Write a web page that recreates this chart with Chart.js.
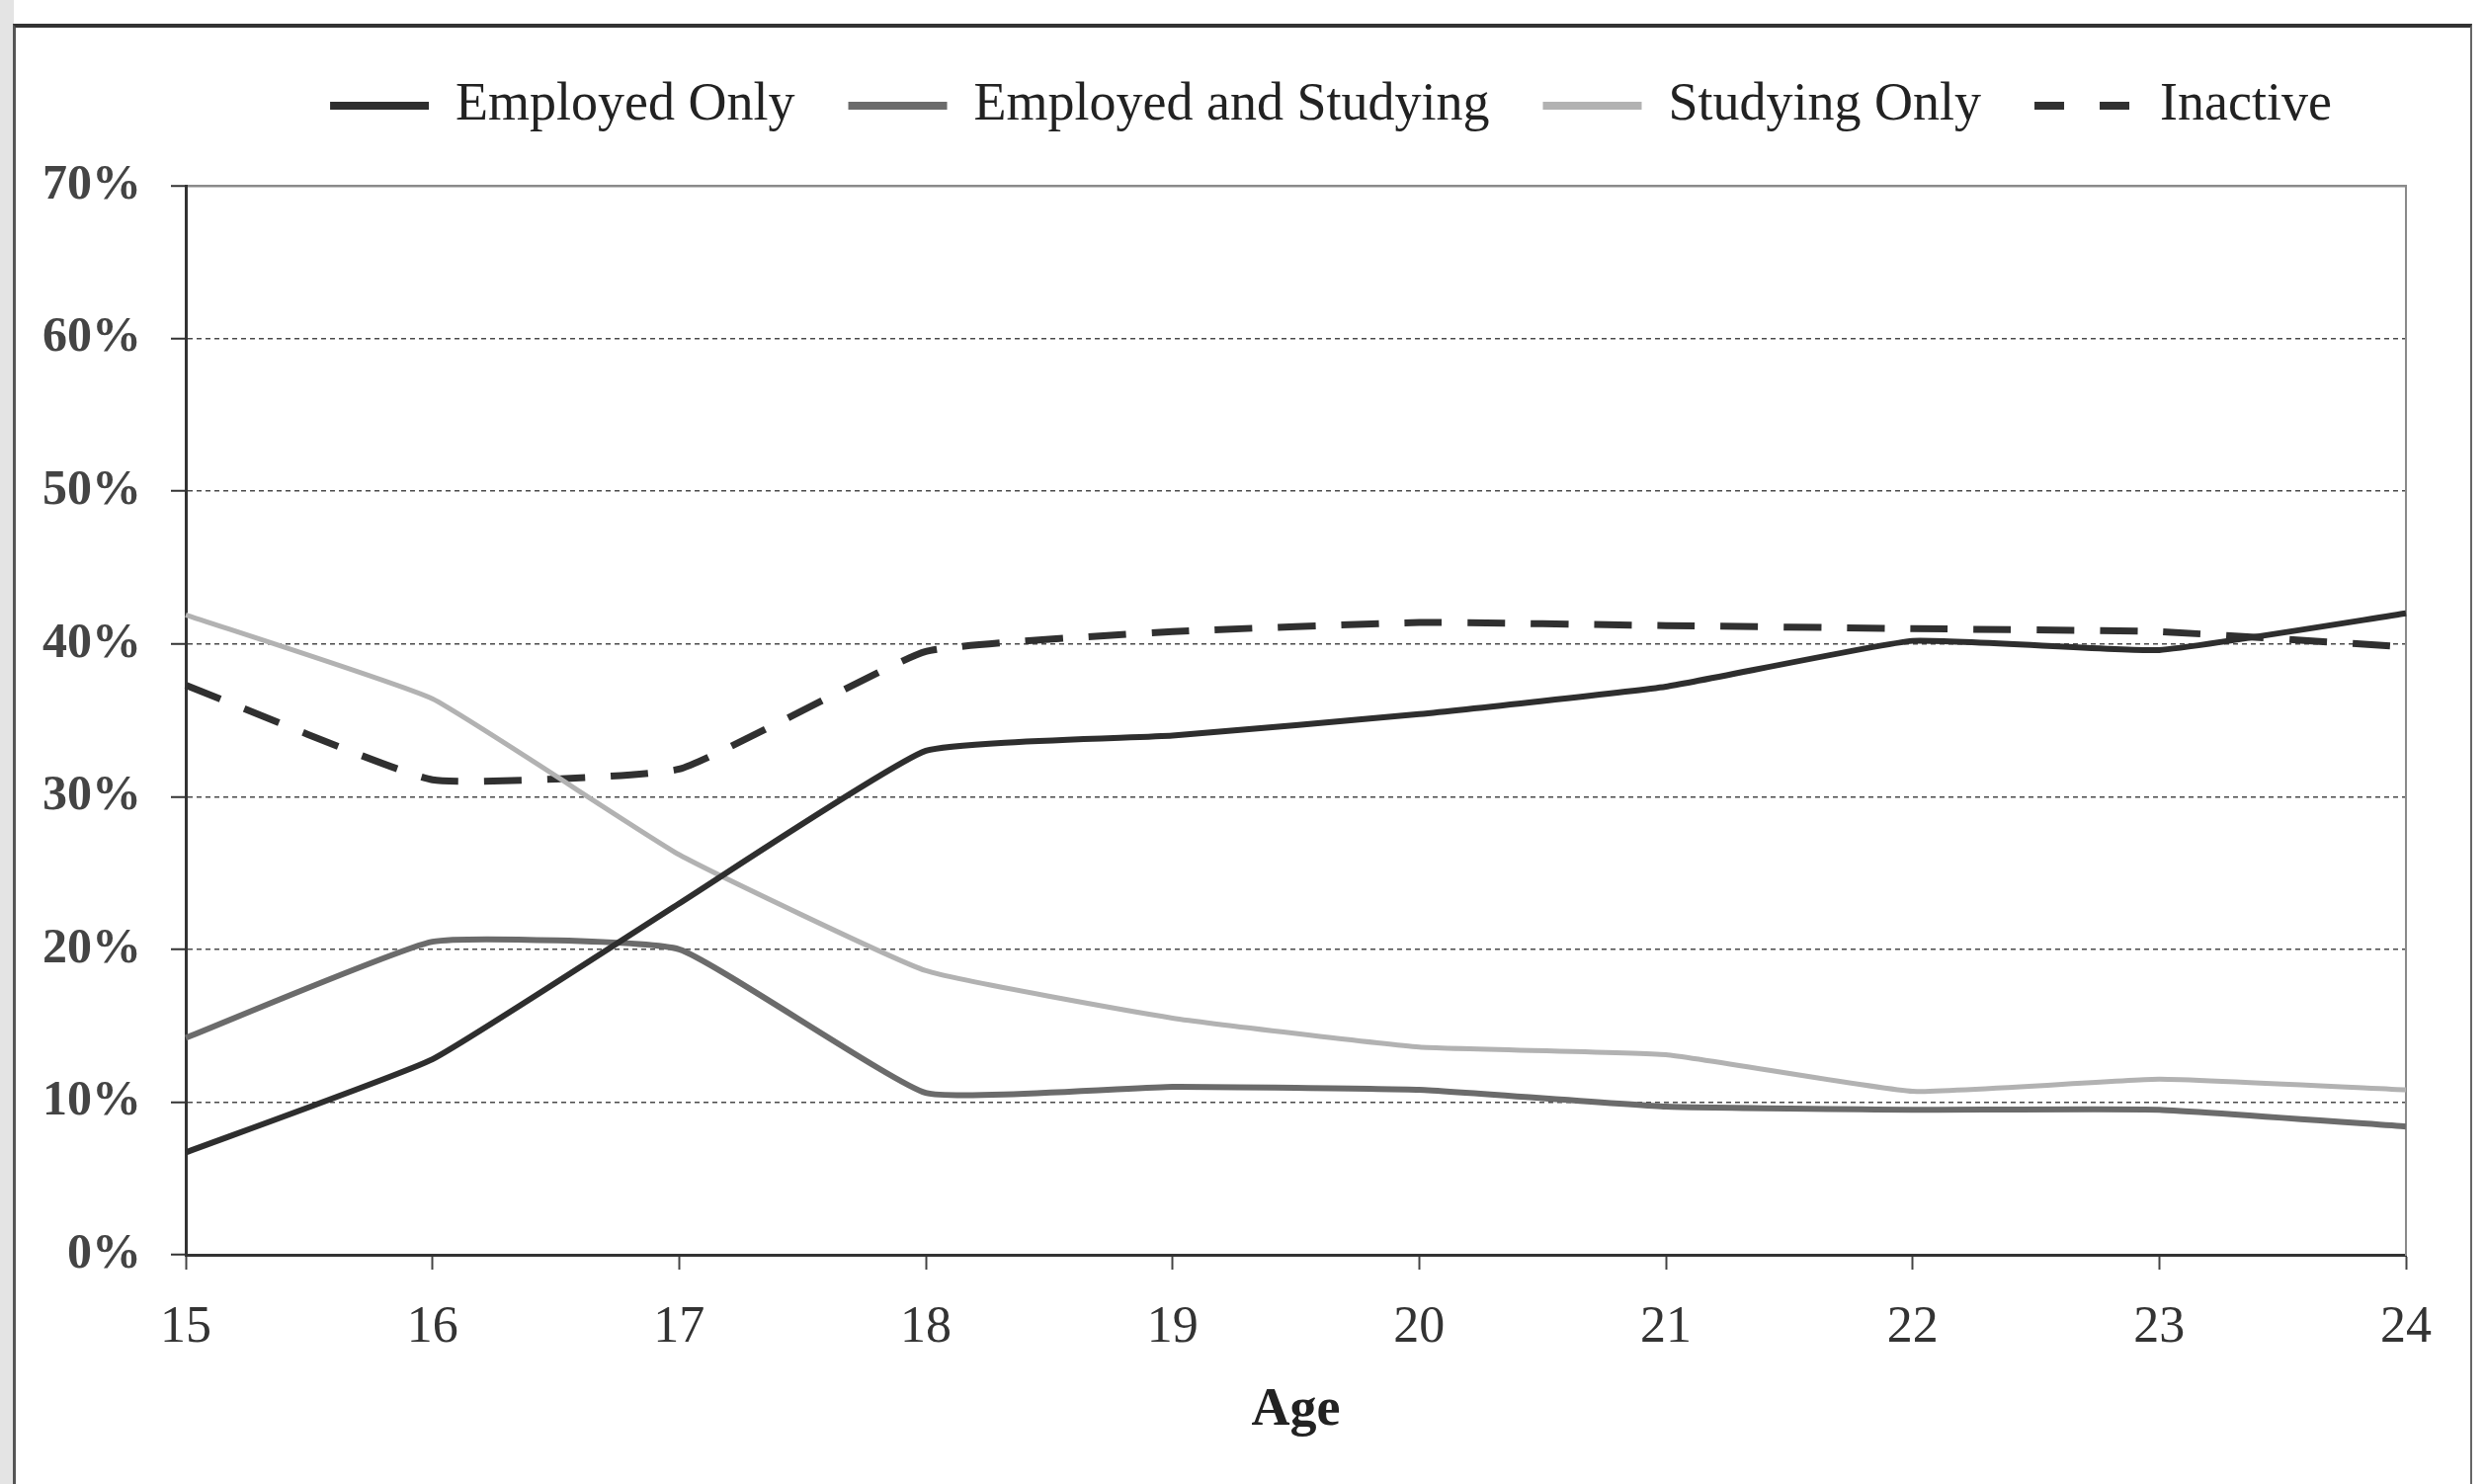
<!DOCTYPE html>
<html>
<head>
<meta charset="utf-8">
<script src="https://cdn.jsdelivr.net/npm/chart.js@4.4.1/dist/chart.umd.min.js"></script>
<style>
  body { margin: 0; background: #fff; }
  #page { position: relative; width: 2515px; height: 1502px; overflow: hidden; background: #fff; }
  #strip { position: absolute; left: 0; top: 0; width: 14px; height: 1502px; background: #e4e4e4; }
  #frame { position: absolute; left: 13px; top: 24px; width: 2484px; height: 1500px;
           border-top: 4px solid #333; border-left: 3px solid #555; border-right: 2px solid #666; }
  #salesChart { position: absolute; left: 0; top: 0; }
</style>
</head>
<body>
<div id="page">
  <div id="strip"></div>
  <div id="frame"></div>
  <canvas id="salesChart" width="2515" height="1502"></canvas>
</div>
<script>
// umur (sumbu x) dan nilai tiap seri dalam persen
const ages = ['15', '16', '17', '18', '19', '20', '21', '22', '23', '24'];
const employedOnly = [6.7, 12.8, 23.0, 33.0, 34.0, 35.4, 37.2, 40.2, 39.6, 42.0];
const employedStudying = [14.2, 20.5, 20.0, 10.6, 11.0, 10.8, 9.7, 9.5, 9.5, 8.4];
const studyingOnly = [41.9, 36.4, 26.2, 18.6, 15.5, 13.6, 13.1, 10.7, 11.5, 10.8];
const inactive = [37.3, 31.1, 31.8, 39.5, 40.8, 41.4, 41.2, 41.0, 40.8, 39.8];
const yTicks = [0, 10, 20, 30, 40, 50, 60, 70];

const serif = "'Liberation Serif', 'Times New Roman', serif";

document.addEventListener('DOMContentLoaded', function() {
  const ctx = document.getElementById('salesChart');
  if (!ctx) return;
  new Chart(ctx, {
    type: 'line',
    data: {
      labels: ages,
      datasets: [
        { label: 'Employed Only', data: employedOnly, borderColor: '#2e2e2e', borderWidth: 6 },
        { label: 'Employed and Studying', data: employedStudying, borderColor: '#6b6b6b', borderWidth: 6 },
        { label: 'Studying Only', data: studyingOnly, borderColor: '#b2b2b2', borderWidth: 5 },
        { label: 'Inactive', data: inactive, borderColor: '#303030', borderWidth: 7, borderDash: [38, 26] }
      ].map(d => Object.assign(d, { xAxisID: 'x', yAxisID: 'y', pointRadius: 0, tension: 0.12, fill: false }))
    },
    options: {
      responsive: false,
      animation: false,
      // kanan negatif supaya legenda bergeser ke kanan seperti aslinya
      layout: { padding: { top: 26, left: 30, right: -149, bottom: 0 } },
      plugins: {
        tooltip: { enabled: false },
        legend: {
          labels: {
            usePointStyle: true,
            pointStyle: 'line',
            pointStyleWidth: 100,
            padding: 54,
            color: '#222',
            font: { family: serif, size: 54 },
            generateLabels: chart => Chart.defaults.plugins.legend.labels.generateLabels(chart).map((item, i) => {
              const ds = chart.data.datasets[i];
              item.strokeStyle = ds.borderColor;
              item.lineWidth = 8;
              item.lineDash = ds.borderDash ? [30, 36] : [];
              return item;
            })
          }
        }
      },
      scales: {
        x: {
          type: 'category',
          offset: false,
          grid: { drawOnChartArea: false, drawTicks: true, tickLength: 15, tickColor: '#444', tickWidth: 2 },
          border: { color: '#333', width: 3 },
          ticks: { color: '#333', padding: 28, font: { family: serif, size: 52 } },
          title: { display: true, text: 'Age', color: '#222', padding: { top: 0, bottom: 42 },
                   font: { family: serif, size: 54, weight: 'bold' } },
          afterFit: s => { s.height = 232; }
        },
        xTop: {
          type: 'category',
          position: 'top',
          grid: { display: false },
          border: { display: false },
          ticks: { display: false },
          afterFit: s => { s.height = 44; }
        },
        y: {
          min: 0,
          max: 70,
          afterBuildTicks: s => { s.ticks = yTicks.map(v => ({ value: v })); },
          grid: {
            color: c => c.tick && c.tick.value === 70 ? '#8a8a8a' : '#4a4a4a',
            lineWidth: c => c.tick && c.tick.value === 70 ? 2.5 : 1.5,
            tickLength: 15, tickColor: '#333', tickWidth: 2
          },
          border: {
            color: '#333', width: 3,
            dash: c => c.tick && (c.tick.value === 70 || c.tick.value === 0) ? [] : [5, 4]
          },
          ticks: {
            color: '#444', padding: 30,
            font: { family: serif, size: 50, weight: 'bold' },
            callback: v => v + '%'
          },
          afterFit: s => { s.width = 158; }
        },
        y2: {
          position: 'right',
          min: 0,
          max: 70,
          grid: { drawOnChartArea: false, drawTicks: false },
          border: { color: '#8a8a8a', width: 2 },
          ticks: { display: false },
          afterFit: s => { s.width = 229; }
        }
      }
    }
  });
});
</script>
</body>
</html>
